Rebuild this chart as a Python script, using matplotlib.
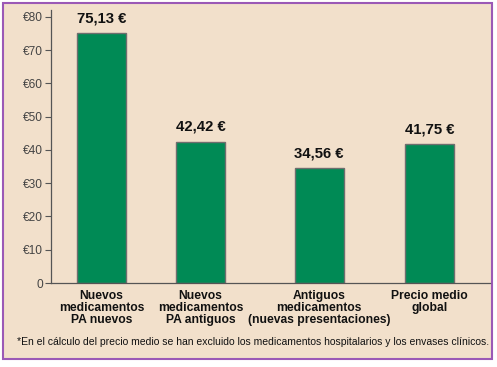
import matplotlib
matplotlib.use("Agg")
import matplotlib.pyplot as plt
from matplotlib.patches import Rectangle

categories = ["Nuevos\nmedicamentos\nPA nuevos",
              "Nuevos\nmedicamentos\nPA antiguos",
              "Antiguos\nmedicamentos\n(nuevas presentaciones)",
              "Precio medio\nglobal"]
values = [75.13, 42.42, 34.56, 41.75]
value_labels = ["75,13 €", "42,42 €", "34,56 €", "41,75 €"]
yticks = [0, 10, 20, 30, 40, 50, 60, 70, 80]
ytick_labels = ["0", "€10", "€20", "€30", "€40", "€50", "€60", "€70", "€80"]
footnote = ("*En el cálculo del precio medio se han excluido los medicamentos "
            "hospitalarios y los envases clínicos.")

# bar centres, in pixel-like units along the axis
xpos = [50.5, 149.5, 268, 378.5]

bg = "#F2E0CB"
green = "#008A55"
plt.rcParams["font.family"] = ["Liberation Sans", "DejaVu Sans"]

W, H = 497, 367
fig = plt.figure(figsize=(W / 100, H / 100), dpi=100)
fig.patch.set_facecolor("white")
renderer = fig.canvas.get_renderer()


def fit_size(text, target_px, weight="normal"):
    # font size that gives the text the wanted width in pixels
    t = fig.text(0, 0, text, fontsize=10, fontweight=weight)
    w = t.get_window_extent(renderer).width
    t.remove()
    return 10 * target_px / w


val_size = fit_size("75,13 €", 50, "bold")
lab_size = fit_size("medicamentos", 85, "bold")
foot_size = fit_size(footnote, 470)
tick_size = fit_size("€80", 20)

# framed panel
fig.patches.append(Rectangle((3 / W, 1 - 359 / H), 489 / W, 356 / H,
                             transform=fig.transFigure, facecolor=bg,
                             edgecolor="#9B59B6", linewidth=1.5, zorder=-5))

ax = fig.add_axes([51 / W, 84 / H, 439 / W, 273 / H])
ax.set_zorder(2)
ax.set_facecolor("none")
ax.bar(xpos, values, width=49, color=green, edgecolor="#6E6E6E", linewidth=1)
ax.set_xlim(0, 439)
ax.set_ylim(0, 82.1)

for x, v, lab in zip(xpos, values, value_labels):
    ax.text(x, v + 2.4, lab, ha="center", va="bottom", fontsize=val_size,
            fontweight="bold", color="#111111")

ax.set_yticks(yticks)
ax.set_yticklabels(ytick_labels, fontsize=tick_size, color="#444444")
ax.set_xticks(xpos)
ax.set_xticklabels(categories, fontsize=lab_size, fontweight="bold",
                   color="#111111", linespacing=1.0)
ax.tick_params(axis="x", length=0, pad=5)
ax.tick_params(axis="y", length=4, width=0.8, color="#555555", pad=2)

for s in ["top", "right"]:
    ax.spines[s].set_visible(False)
for s in ["left", "bottom"]:
    ax.spines[s].set_color("#555555")
    ax.spines[s].set_linewidth(0.9)

fig.text(253 / W, 1 - 342 / H, footnote, ha="center", va="center",
         fontsize=foot_size, color="#111111", zorder=3)

fig.savefig("out.png", dpi=100, facecolor="white")
